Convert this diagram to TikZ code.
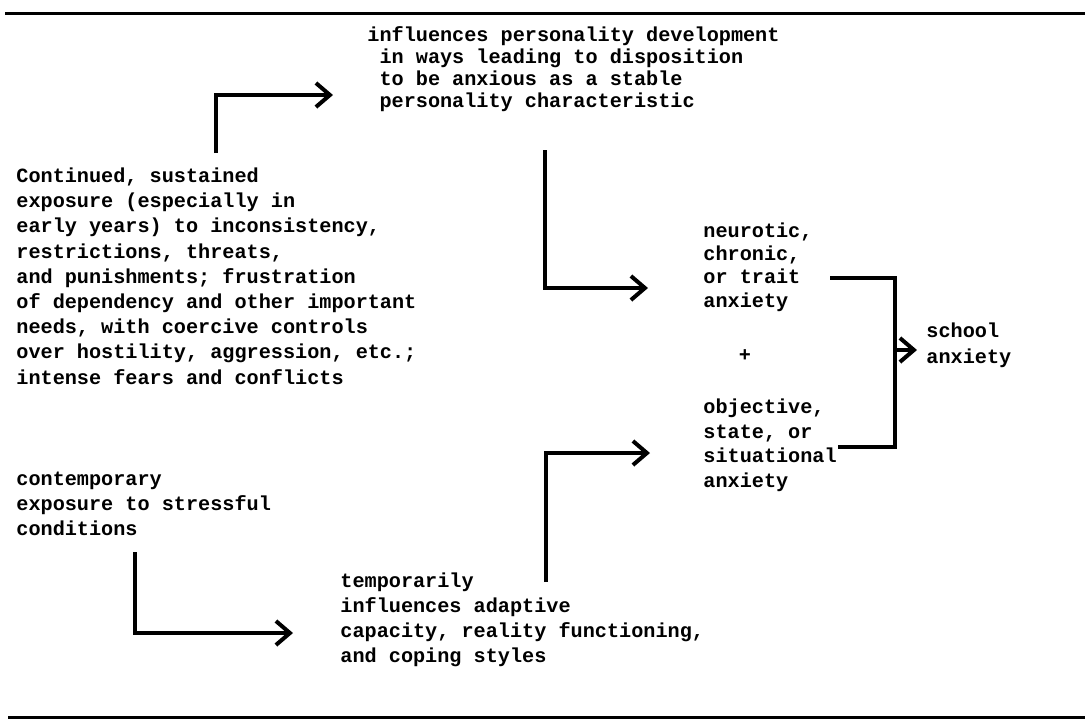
\documentclass[tikz,border=0pt]{standalone}
\usepackage{fontspec}
\setmainfont{Liberation Mono}
\usetikzlibrary{arrows.meta}

\begin{document}
\begin{tikzpicture}[x=0.5pt,y=-0.5pt]
\tikzset{txt/.style={inner sep=0pt, anchor=base west, align=left,
font=\bfseries\fontsize{10.1}{#1}\selectfont}}
\tikzstyle{line} = [draw, line width=2pt, -{Straight Barb[length=7pt,width=12pt]}];
\tikzstyle{rule} = [draw, line width=1.5pt];
\tikzstyle{bracket} = [draw, line width=2pt];
\useasboundingbox (0,0) rectangle (1089,720);

% rules above and below
\draw[rule] (5,13) -- (1085,13);
\draw[rule] (8,717) -- (1085,717);

% texts (placed at the baseline of their last line)
\node[txt=11pt] (influ) at (367,107) {influences personality development\\
\phantom{x}in ways leading to disposition\\
\phantom{x}to be anxious as a stable\\
\phantom{x}personality characteristic};
\node[txt=12.6pt] (cont) at (16,384) {Continued, sustained\\
exposure (especially in\\
early years) to inconsistency,\\
restrictions, threats,\\
and punishments; frustration\\
of dependency and other important\\
needs, with coercive controls\\
over hostility, aggression, etc.;\\
intense fears and conflicts};
\node[txt=11.65pt] (neur) at (703,307) {neurotic,\\chronic,\\or trait\\anxiety};
\node[inner sep=0pt, font=\bfseries\fontsize{10.1}{12}\selectfont] (plus) at (745,356) {+};
\node[txt=12.25pt] (obj) at (703,487) {objective,\\state, or\\situational\\anxiety};
\node[txt=13pt] (school) at (926,363) {school\\anxiety};
\node[txt=12.5pt] (contemp) at (16,535) {contemporary\\
exposure to stressful\\
conditions};
\node[txt=12.5pt] (temp) at (340,662) {temporarily\\
influences adaptive\\
capacity, reality functioning,\\
and coping styles};

% arrow ends
\coordinate (contUp) at (216,153);
\coordinate (influIn) at (333,95);
\coordinate (influDown) at (545,150);
\coordinate (neurIn) at (648,288);
\coordinate (tempUp) at (546,582);
\coordinate (objIn) at (650,453);
\coordinate (contempDown) at (135,552);
\coordinate (tempIn) at (293,633);
\coordinate (neurOut) at (830,278);
\coordinate (objOut) at (838,447);
\coordinate (joint) at (895,350);
\coordinate (schoolIn) at (917,350);

\path[line] (contUp) |- (influIn);
\path[line] (influDown) |- (neurIn);
\path[line] (tempUp) |- (objIn);
\path[line] (contempDown) |- (tempIn);
\path[bracket] (neurOut) -| (joint) |- (objOut);
\path[line] (joint) -- (schoolIn);
\end{tikzpicture}
\end{document}
